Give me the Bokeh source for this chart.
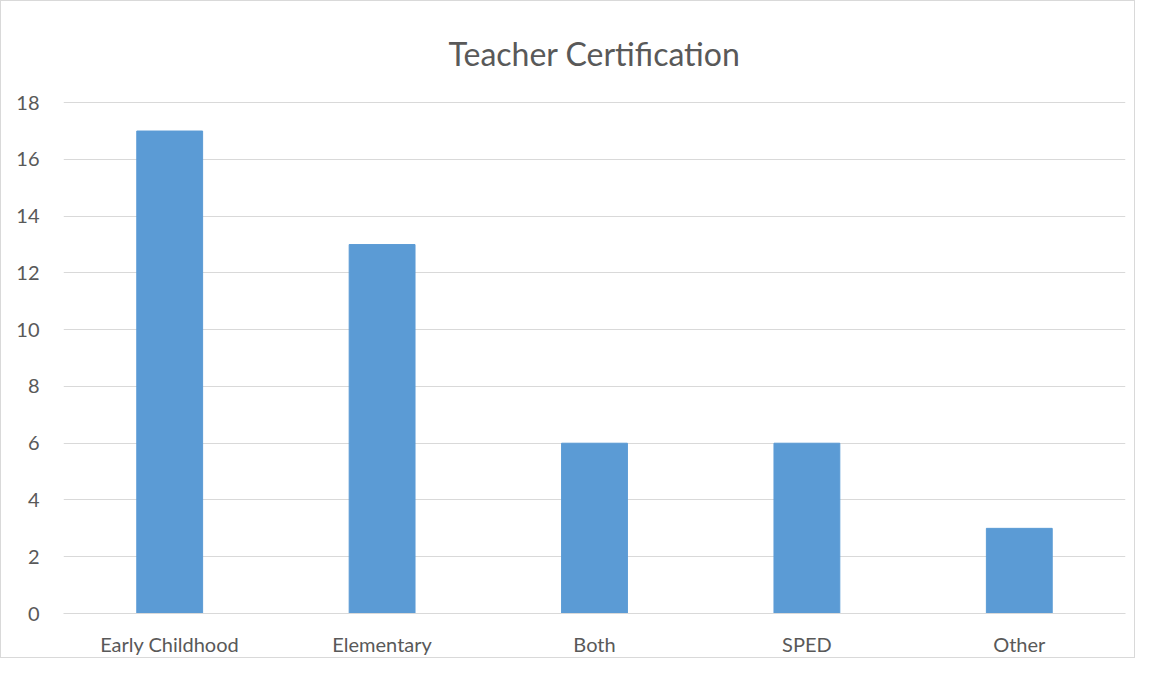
from bokeh.plotting import figure
from bokeh.models import Range1d, FactorRange
from bokeh.embed import file_html
from bokeh.resources import INLINE

categories = ["Early Childhood", "Elementary", "Both", "SPED", "Other"]
counts = [17, 13, 6, 6, 3]
y_ticks = [0, 2, 4, 6, 8, 10, 12, 14, 16, 18]
title_text = "Teacher Certification"

p = figure(x_range=FactorRange(*categories, range_padding=0), y_range=Range1d(0, 18.04),
           width=1135, height=658, output_backend="svg", toolbar_location=None,
           min_border_left=62, min_border_right=11, min_border_top=100, min_border_bottom=46,
           title=title_text)
p.styles = {"border": "1px solid #D9D9D9"}
p.vbar(x=categories, top=counts, width=0.31, fill_color="#5B9BD5", line_color="#5B9BD5")

p.title.align = "center"
p.title.offset = -18
p.title.text_font = "Lato"
p.title.text_font_size = "32px"
p.title.text_font_style = "normal"
p.title.text_color = "#595959"
p.title.standoff = 58

p.outline_line_color = None
p.xgrid.grid_line_color = None
p.ygrid.grid_line_color = "#D9D9D9"
p.ygrid.grid_line_width = 1
p.yaxis.ticker = y_ticks
p.yaxis.axis_line_color = None
p.yaxis.major_tick_line_color = None
p.yaxis.minor_tick_line_color = None
p.yaxis.major_label_standoff = 18
p.xaxis.axis_line_color = "#D9D9D9"
p.xaxis.major_tick_line_color = None
p.xaxis.minor_tick_line_color = None
p.xaxis.major_label_standoff = 12
for ax in (p.xaxis, p.yaxis):
    ax.major_label_text_font = "Lato"
    ax.major_label_text_font_size = "20px"
    ax.major_label_text_color = "#595959"

open("out.html", "w").write(file_html(p, INLINE))
